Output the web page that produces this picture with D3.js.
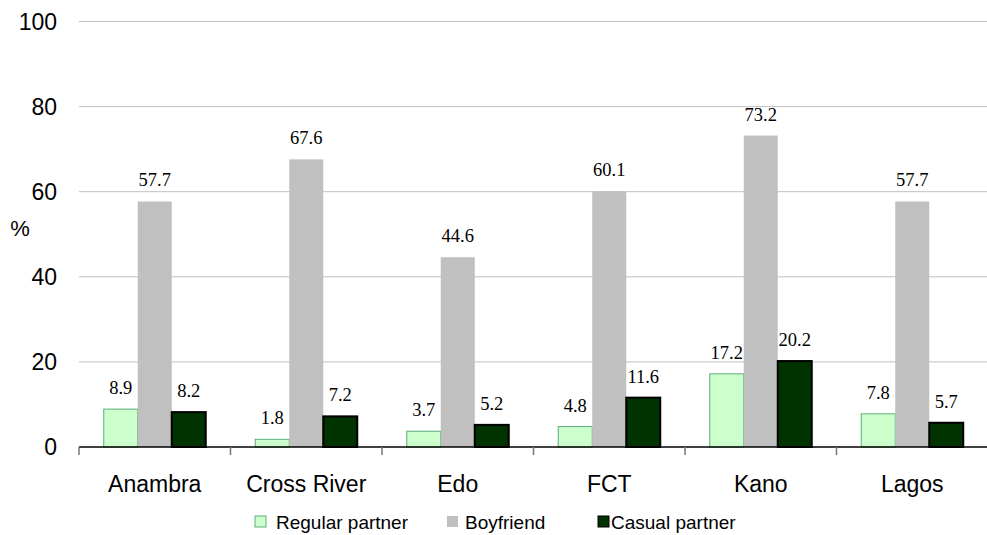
<!DOCTYPE html>
<html><head><meta charset="utf-8">
<script src="https://cdn.jsdelivr.net/npm/d3@7"></script>
<style>body{margin:0;background:#fff}svg{display:block}</style>
</head><body>
<script>
const categories = ["Anambra","Cross River","Edo","FCT","Kano","Lagos"];
const seriesNames = ["Regular partner","Boyfriend","Casual partner"];
const regular = [8.9,1.8,3.7,4.8,17.2,7.8];
const boyfriend = [57.7,67.6,44.6,60.1,73.2,57.7];
const casual = [8.2,7.2,5.2,11.6,20.2,5.7];
const yTicks = [0,20,40,60,80,100];

const W=987,H=535;
const SANS="'Liberation Sans', Arial, sans-serif";
const SERIF="'Liberation Serif', 'Times New Roman', serif";
const svg=d3.select("body").append("svg").attr("width",W).attr("height",H);
const x=d3.scaleBand().domain(categories).range([79,988]);
const y=d3.scaleLinear().domain([0,100]).range([447,21.5]);
const bw=34;
const sub=d3.scaleBand().domain(seriesNames).range([0,bw*3]);
const styles=[{fill:"#CCFFCC",stroke:"#5BAF7A",sw:1},{fill:"#C0C0C0",stroke:"none",sw:0},{fill:"#003300",stroke:"#000",sw:2}];
const series=[regular,boyfriend,casual];

// gridlines
svg.append("g").selectAll("line").data(yTicks.filter(d=>d>0)).join("line")
 .attr("x1",79).attr("x2",W).attr("y1",d=>y(d)).attr("y2",d=>y(d))
 .attr("stroke","#C0C0C0").attr("stroke-width",1);

// y labels
svg.append("g").selectAll("text").data(yTicks).join("text")
 .attr("x",57).attr("y",d=>y(d)).attr("dy","0.35em").attr("text-anchor","end")
 .attr("font-family",SANS).attr("font-size",23).text(d=>d);
svg.append("text").attr("x",20).attr("y",228).attr("dy","0.35em").attr("text-anchor","middle")
 .attr("font-family",SANS).attr("font-size",22).text("%");

// bars
series.forEach((vals,si)=>{
  const g=svg.append("g");
  const st=styles[si];
  g.selectAll("rect").data(vals).join("rect")
   .attr("x",(d,i)=>x(categories[i])+x.bandwidth()/2-bw*1.5+sub(seriesNames[si]))
   .attr("width",bw).attr("y",d=>y(d)).attr("height",d=>y(0)-y(d))
   .attr("fill",st.fill).attr("stroke",st.stroke).attr("stroke-width",st.sw);
  g.selectAll("text").data(vals).join("text")
   .attr("x",(d,i)=>x(categories[i])+x.bandwidth()/2-bw*1.5+sub(seriesNames[si])+bw/2)
   .attr("y",d=>y(d)-15).attr("text-anchor","middle")
   .attr("font-family",SERIF).attr("font-size",18.5)
   .attr("fill","#000").text(d=>d.toFixed(1));
});

// x axis
const xa=svg.append("g");
xa.append("line").attr("x1",79).attr("x2",W).attr("y1",y(0)).attr("y2",y(0)).attr("stroke","#000").attr("stroke-width",1.5);
const bounds=categories.map(c=>x(c)).concat([x.range()[1]]);
xa.selectAll("line.t").data(bounds).join("line").attr("class","t")
 .attr("x1",d=>d).attr("x2",d=>d).attr("y1",y(0)).attr("y2",y(0)+8).attr("stroke","#777").attr("stroke-width",1.5);
xa.selectAll("text").data(categories).join("text")
 .attr("x",d=>x(d)+x.bandwidth()/2).attr("y",492).attr("text-anchor","middle")
 .attr("font-family",SANS).attr("font-size",23).text(d=>d);

// legend
const legX=[255,447,598], legT=[276,465,611];
const lg=svg.append("g");
seriesNames.forEach((n,i)=>{
  const st=styles[i];
  lg.append("rect").attr("x",legX[i]).attr("y",516).attr("width",11).attr("height",11)
   .attr("fill",st.fill).attr("stroke",st.stroke).attr("stroke-width",1);
  lg.append("text").attr("x",legT[i]).attr("y",529)
   .attr("font-family",SANS).attr("font-size",19).text(n);
});
</script>
</body></html>
